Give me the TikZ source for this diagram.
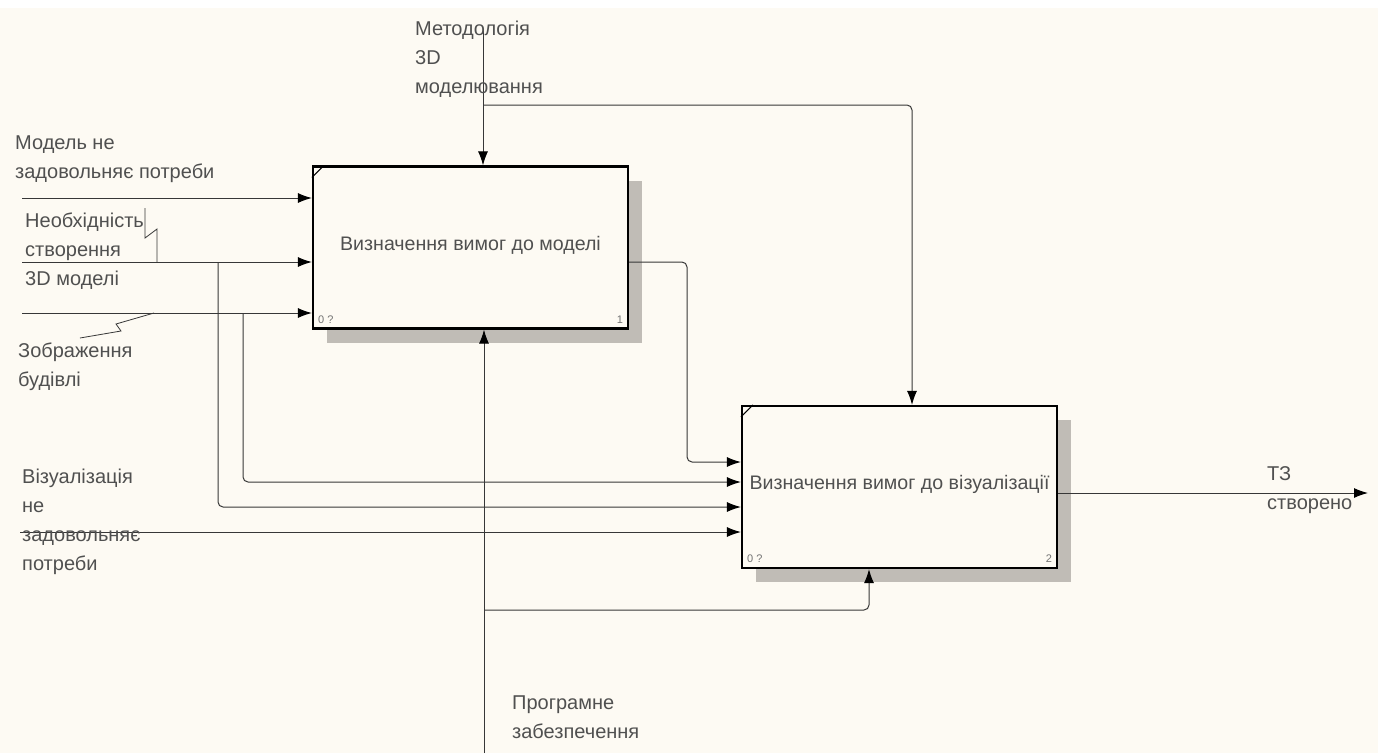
\documentclass[tikz,border=0pt]{standalone}
\usepackage{tikz}
\usetikzlibrary{arrows.meta}
\usetikzlibrary{shadows}
\usepackage{xcolor}
\usepackage{fontspec}
\setmainfont{Liberation Sans}

\definecolor{paper}{RGB}{253,250,243}
\definecolor{shade}{RGB}{192,188,182}
\definecolor{wire}{RGB}{55,55,55}
\definecolor{ink}{RGB}{80,80,80}

\tikzset{
  actbox/.style={draw=black, line width=2.2pt, fill=paper, minimum width=315pt, minimum height=162pt,
    inner sep=0pt, text=ink, font=\fontsize{19.6}{23}\selectfont,
    drop shadow={shadow xshift=14pt, shadow yshift=-14pt, fill=shade, opacity=1}},
  wire/.style={draw=wire, line width=1pt, ->, rounded corners=5pt},
  squig/.style={draw=wire, line width=0.8pt},
  lbl/.style={anchor=north west, inner sep=0pt, align=left, text=ink, font=\fontsize{20}{29}\selectfont},
  corner/.style={inner sep=0pt, text=ink!80, font=\fontsize{11}{13}\selectfont}
}

\begin{document}
\begin{tikzpicture}[x=1pt, y=-1pt, >={Latex[length=14pt,width=10pt,color=black]}]
  \useasboundingbox (0,0) rectangle (1378,753);
  \fill[white] (0,0) rectangle (1378,753);
  \fill[paper] (0,8) rectangle (1378,753);

  \node[actbox] (a1) at (470.5,247.5) {\raisebox{9pt}{Визначення вимог до моделі}};
  \node[actbox] (a2) at (899.5,487) {\raisebox{9pt}{Визначення вимог до візуалізації}};

  \draw[line width=1pt] ([yshift=-12pt]a1.north west) -- ([xshift=12pt]a1.north west);
  \draw[line width=1pt] ([yshift=-12pt]a2.north west) -- ([xshift=12pt]a2.north west);
  \node[corner, anchor=south west] (n1) at ([xshift=6pt,yshift=6pt]a1.south west) {0 ?};
  \node[corner, anchor=south east] (k1) at ([xshift=-6pt,yshift=6pt]a1.south east) {1};
  \node[corner, anchor=south west] (n2) at ([xshift=6pt,yshift=6pt]a2.south west) {0 ?};
  \node[corner, anchor=south east] (k2) at ([xshift=-6pt,yshift=6pt]a2.south east) {2};

  \coordinate (i1) at (22,198);
  \coordinate (i2) at (22,262);
  \coordinate (i3) at (22,313);
  \coordinate (i4) at (20,532);
  \coordinate (j2) at (218,262);
  \coordinate (j3) at (243,313);
  \coordinate (ctl) at (483,30);
  \coordinate (jc) at (483,105);
  \coordinate (mech) at (484,753);
  \coordinate (jm) at (484,610);
  \coordinate (out) at (1368,493);

  \draw[wire] (i1) -- (i1 -| a1.west);
  \draw[wire] (i2) -- (i2 -| a1.west);
  \draw[wire] (i3) -- (i3 -| a1.west);
  \draw[wire] (i4) -- (i4 -| a2.west);
  \draw[wire] (j2) |- (a2.west |- 0,507);
  \draw[wire] (j3) |- (a2.west |- 0,482);
  \draw[wire] (a1.east |- 0,262) -- (687,262) -- (687,462) -- (a2.west |- 0,462);
  \draw[wire] (ctl) -- (ctl |- a1.north);
  \draw[wire] (jc) -| (a2.north -| 912,0);
  \draw[wire] (mech) -- (mech |- a1.south);
  \draw[wire] (jm) -| (a2.south -| 869,0);
  \draw[wire] (a2.east |- out) -- (out);

  \draw[squig] (145,208) -- (145,238) -- (157,229) -- (157,262);
  \draw[squig] (154,313) -- (116,324) -- (121,331) -- (80,338);

  \node[lbl] (l1) at (15,136) {Модель не\\задовольняє потреби};
  \node[lbl] (l2) at (25,213) {Необхідність\\створення\\3D моделі};
  \node[lbl] (l3) at (18,343) {Зображення\\будівлі};
  \node[lbl] (l4) at (22,469) {Візуалізація\\не\\задовольняє\\потреби};
  \node[lbl] (l5) at (415,21) {Методологія\\3D\\моделювання};
  \node[lbl] (l6) at (512,696) {Програмне\\забезпечення};
  \node[lbl] (l7) at (1267,466) {ТЗ\\створено};
\end{tikzpicture}
\end{document}
